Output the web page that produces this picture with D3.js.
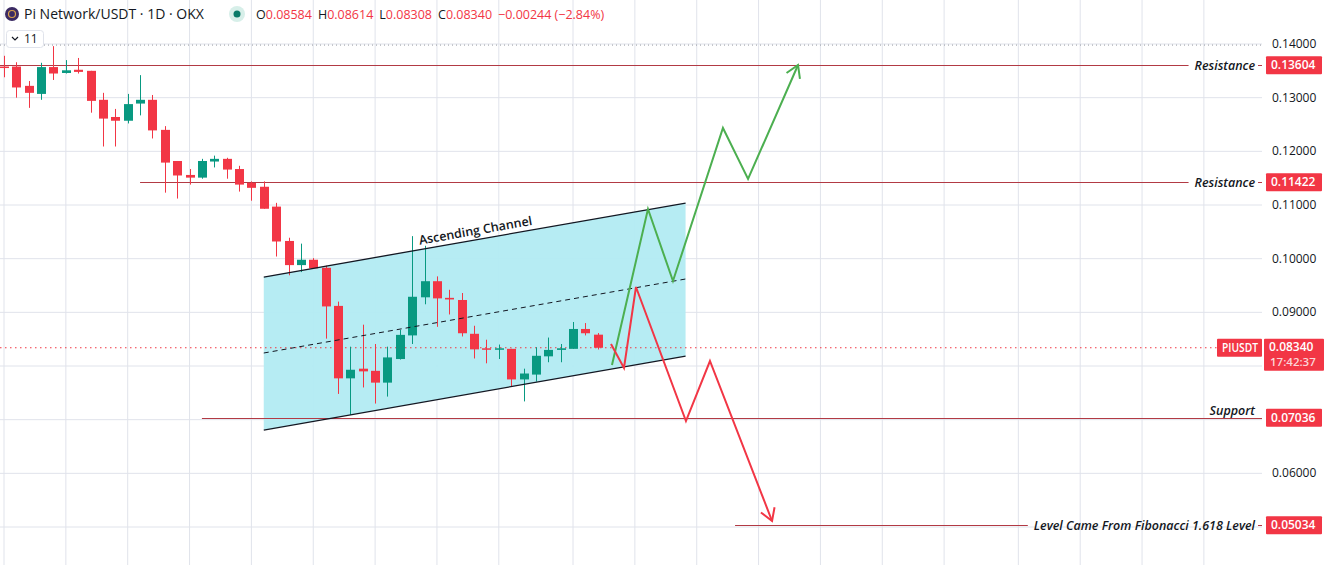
<!DOCTYPE html>
<html>
<head>
  <meta charset="utf-8">
  <title>Pi Network/USDT</title>
  <style>
    body { margin: 0; background: #fff; font-family: "Open Sans", "Noto Sans", sans-serif; }
    svg { display: block; }
  </style>
</head>
<body>
  <svg width="1325" height="565"></svg>
  <script src="https://d3js.org/d3.v7.min.js"></script>
  <script>
    // daily candles: open, high, low, close
    var opens  = [.1358,.1358,.1322,.1307,.1357,.1346,.1352,.1350,.1296,.1264,.1257,.1289,.1296,.1240,.1182,.1156,.1151,.1181,.1186,.1167,.1141,.1134,.1097,.1033,.0988,.0998,
                  .0983,.0912,.0777,.0795,.0791,.0769,.0813,.0857,.0928,.0958,.0927,.0923,.0860,.0833,.0831,.0832,.0775,.0784,.0818,.0830,.0832,.0869,.08584];
    var highs  = [.1378,.1366,.1331,.1365,.1396,.1370,.1374,.1350,.1309,.1279,.1307,.1342,.1305,.1247,.1182,.1167,.1186,.1192,.1188,.1173,.1144,.1144,.1104,.1039,.1028,.1001,
                  .0987,.0920,.0836,.0877,.0841,.0836,.0867,.1042,.1024,.0967,.0942,.0936,.0875,.0849,.0840,.0832,.0795,.0835,.0853,.0841,.0882,.0880,.08614];
    var lows   = [.1338,.1300,.1281,.1296,.1333,.1345,.1345,.1272,.1209,.1209,.1252,.1267,.1224,.1123,.1112,.1138,.1149,.1170,.1149,.1125,.1108,.1093,.1004,.0969,.0975,.0982,
                  .0851,.0748,.0709,.0760,.0730,.0743,.0812,.0841,.0915,.0873,.0896,.0855,.0814,.0805,.0813,.0761,.0734,.0771,.0807,.0807,.0832,.0857,.08308];
    var closes = [.1356,.1319,.1309,.1357,.1345,.1351,.1348,.1294,.1261,.1257,.1288,.1296,.1239,.1179,.1155,.1151,.1182,.1186,.1166,.1138,.1132,.1093,.1032,.0988,.0998,.0982,
                  .0911,.0777,.0793,.0790,.0769,.0816,.0858,.0929,.0958,.0926,.0924,.0861,.0831,.0831,.0833,.0775,.0786,.0819,.0830,.0833,.0869,.0861,.08340];

    var priceTicks = [0.14, 0.13, 0.12, 0.11, 0.10, 0.09, 0.06];
    var gridPrices = [0.14, 0.13, 0.12, 0.11, 0.10, 0.09, 0.08, 0.07, 0.06, 0.05];
    var gridDays = [0, 5, 10, 15, 20, 25, 30, 35, 40, 46, 51, 56, 61, 66, 71, 76, 82, 87, 92, 97];

    // drawn levels: price, text, where the line starts (day)
    var levelPrices = [0.13604, 0.11422, 0.07036, 0.05034];
    var levelNames  = ['Resistance', 'Resistance', 'Support', 'Level Came From Fibonacci 1.618 Level'];
    var levelStart  = [-1, 11, 16, 59.1];

    // channel lines as [day, price] pairs
    var channelUpper = [[21.0, 0.09658], [55.1, 0.11036]];
    var channelLower = [[21.0, 0.06807], [55.1, 0.08186]];
    var channelMid   = [[21.0, 0.08242], [55.1, 0.09621]];

    // projected moves
    var bullPath = [[49.15, 0.08019], [52.06, 0.10925], [54.08, 0.09584], [58.12, 0.12435], [60.15, 0.11485], [64.19, 0.13609]];
    var bearPath = [[49.07, 0.08410], [50.12, 0.07963], [51.09, 0.09472], [55.13, 0.06975], [57.07, 0.08093], [62.09, 0.05112]];

    var lastPrice = 0.08340;

    var svg = d3.select('svg');
    var plotRight = 1262;
    var up = '#089981', down = '#f23645';

    var x = d3.scaleLinear().domain([0, 10]).range([4, 127.7]);
    var y = d3.scaleLinear().domain([0.05, 0.14]).range([527, 44]);

    // grid
    svg.append('g').selectAll('line').data(gridPrices).join('line')
      .attr('x1', 0).attr('x2', plotRight)
      .attr('y1', function(d) { return y(d); }).attr('y2', function(d) { return y(d); })
      .attr('stroke', '#e0e3eb').attr('stroke-width', 1);
    svg.append('g').selectAll('line').data(gridDays).join('line')
      .attr('x1', function(d) { return x(d); }).attr('x2', function(d) { return x(d); })
      .attr('y1', 0).attr('y2', 565)
      .attr('stroke', '#e0e3eb').attr('stroke-width', 1);

    // top dotted line
    svg.append('line').attr('x1', 0).attr('x2', plotRight).attr('y1', y(0.1398)).attr('y2', y(0.1398))
      .attr('stroke', '#9598a1').attr('stroke-dasharray', '1,3');

    // channel
    var line = d3.line().x(function(d) { return x(d[0]); }).y(function(d) { return y(d[1]); });
    svg.append('path')
      .attr('d', line(channelUpper.concat(channelLower.slice().reverse())) + 'Z')
      .attr('fill', '#b2ebf2').attr('opacity', 0.95);

    // levels
    levelPrices.forEach(function(p, i) {
      var yy = Math.round(y(p)) + 0.5;
      var isSupport = levelNames[i] === 'Support';
      var t = svg.append('text')
        .attr('x', 1255).attr('y', isSupport ? yy - 4 : yy + 4)
        .attr('text-anchor', 'end')
        .attr('font-size', 12.5).attr('font-style', 'italic').attr('font-weight', 600)
        .attr('fill', '#131722').text(levelNames[i]);
      var tw = t.node().getComputedTextLength();
      var endX = isSupport ? plotRight : 1255 - tw - 6;
      svg.append('line').attr('x1', x(levelStart[i])).attr('x2', endX).attr('y1', yy).attr('y2', yy)
        .attr('stroke', '#b23a44').attr('stroke-width', 1);
      if (!isSupport) {
        svg.append('line').attr('x1', 1258).attr('x2', plotRight).attr('y1', yy).attr('y2', yy)
          .attr('stroke', '#b23a44').attr('stroke-width', 1);
      }
    });

    // current price line
    svg.append('line').attr('x1', 0).attr('x2', plotRight).attr('y1', y(lastPrice)).attr('y2', y(lastPrice))
      .attr('stroke', down).attr('stroke-dasharray', '1.5,3.5');

    // candles
    var candles = svg.append('g').selectAll('g').data(opens).join('g');
    candles.append('line')
      .attr('x1', function(d, i) { return Math.round(x(i)) + 0.5; })
      .attr('x2', function(d, i) { return Math.round(x(i)) + 0.5; })
      .attr('y1', function(d, i) { return y(highs[i]); })
      .attr('y2', function(d, i) { return y(lows[i]); })
      .attr('stroke', function(d, i) { return closes[i] >= d ? up : down; });
    candles.append('rect')
      .attr('x', function(d, i) { return Math.round(x(i)) - 4; })
      .attr('width', 9)
      .attr('y', function(d, i) { return y(Math.max(d, closes[i])); })
      .attr('height', function(d, i) { return Math.max(1.5, Math.abs(y(d) - y(closes[i]))); })
      .attr('fill', function(d, i) { return closes[i] >= d ? up : down; });

    // channel borders
    svg.append('path').attr('d', line(channelUpper)).attr('stroke', '#131722').attr('stroke-width', 1.3).attr('fill', 'none');
    svg.append('path').attr('d', line(channelLower)).attr('stroke', '#131722').attr('stroke-width', 1.3).attr('fill', 'none');
    svg.append('path').attr('d', line(channelMid)).attr('stroke', '#131722').attr('stroke-width', 1)
      .attr('stroke-dasharray', '5,4').attr('fill', 'none');

    var p0 = [x(channelUpper[0][0]), y(channelUpper[0][1])], p1 = [x(channelUpper[1][0]), y(channelUpper[1][1])];
    var ang = Math.atan2(p1[1] - p0[1], p1[0] - p0[0]) * 180 / Math.PI;
    var tx = x(33.6), ty = y(channelUpper[0][1] + (channelUpper[1][1] - channelUpper[0][1]) * (33.6 - 21) / 34.1) - 5;
    svg.append('text').attr('transform', 'translate(' + tx + ',' + ty + ') rotate(' + ang + ')')
      .attr('font-size', 12.5).attr('font-weight', 600).attr('fill', '#131722')
      .text('Ascending Channel');

    // projected paths with arrow heads
    function drawPath(pts, color) {
      svg.append('path').attr('d', line(pts)).attr('stroke', color).attr('stroke-width', 2)
        .attr('fill', 'none').attr('stroke-linejoin', 'miter');
      var a = pts[pts.length - 2], b = pts[pts.length - 1];
      var bx = x(b[0]), by = y(b[1]);
      var th = Math.atan2(by - y(a[1]), bx - x(a[0]));
      var L = 14, spread = 0.55;
      var h = [[bx - L * Math.cos(th - spread), by - L * Math.sin(th - spread)], [bx, by],
               [bx - L * Math.cos(th + spread), by - L * Math.sin(th + spread)]];
      svg.append('path').attr('d', d3.line()(h)).attr('stroke', color).attr('stroke-width', 2).attr('fill', 'none');
    }
    drawPath(bullPath, '#4caf50');
    drawPath(bearPath, down);

    // price axis
    svg.append('g').selectAll('text').data(priceTicks).join('text')
      .attr('x', 1272).attr('y', function(d) { return y(d) + 4; })
      .attr('font-size', 12).attr('fill', '#131722')
      .text(function(d) { return d.toFixed(5); });

    function tag(p, txt, x0, w, h, tl, dy) {
      var yy = y(p);
      svg.append('rect').attr('x', x0).attr('y', yy - 9).attr('width', w).attr('height', h).attr('fill', down).attr('rx', 1);
      var t = svg.append('text').attr('x', x0 + 5).attr('y', yy + (dy || 4)).attr('font-size', 12).attr('font-weight', 600)
        .attr('fill', '#fff').text(txt);
      if (tl) t.attr('textLength', tl).attr('lengthAdjust', 'spacingAndGlyphs');
    }
    levelPrices.forEach(function(p) { tag(p, p.toFixed(5), 1266, 56, 18); });
    tag(lastPrice, lastPrice.toFixed(5), 1264, 60, 32, null, 3);
    svg.append('text').attr('x', 1270).attr('y', y(lastPrice) + 18.5).attr('font-size', 11.5).attr('font-weight', 600)
      .attr('fill', '#fbd5d8').text('17:42:37');
    tag(lastPrice, 'PIUSDT', 1217, 45, 18, 36);

    // header
    svg.append('circle').attr('cx', 12).attr('cy', 14).attr('r', 7).attr('fill', '#3b2a63');
    svg.append('circle').attr('cx', 12).attr('cy', 14).attr('r', 3.5).attr('fill', 'none').attr('stroke', '#d9a14a').attr('stroke-width', 1.2);
    svg.append('text').attr('x', 24).attr('y', 19).attr('font-size', 14).attr('fill', '#131722')
      .text('Pi Network/USDT · 1D · OKX');
    svg.append('circle').attr('cx', 237).attr('cy', 14).attr('r', 8).attr('fill', '#d7efe9');
    svg.append('circle').attr('cx', 237).attr('cy', 14).attr('r', 3.5).attr('fill', '#097b68');
    var hdr = svg.append('text').attr('x', 256).attr('y', 19).attr('font-size', 12.5);
    [['O', opens[opens.length - 1]], ['H', highs[highs.length - 1]], ['L', lows[lows.length - 1]], ['C', lastPrice]]
      .forEach(function(d, i) {
        hdr.append('tspan').attr('dx', i ? 6 : 0).attr('fill', '#131722').text(d[0]);
        hdr.append('tspan').attr('fill', down).text(d[1].toFixed(5));
      });
    hdr.append('tspan').attr('dx', 6).attr('fill', down).text('−0.00244 (−2.84%)');

    svg.append('rect').attr('x', 6.5).attr('y', 30.5).attr('width', 37).attr('height', 17).attr('rx', 3)
      .attr('fill', '#fff').attr('stroke', '#e0e3eb');
    svg.append('path').attr('d', 'M12,37 l3,3 l3,-3').attr('stroke', '#131722').attr('fill', 'none').attr('stroke-width', 1.2);
    svg.append('text').attr('x', 24).attr('y', 43).attr('font-size', 12).attr('fill', '#131722').text('11');
  </script>
</body>
</html>
